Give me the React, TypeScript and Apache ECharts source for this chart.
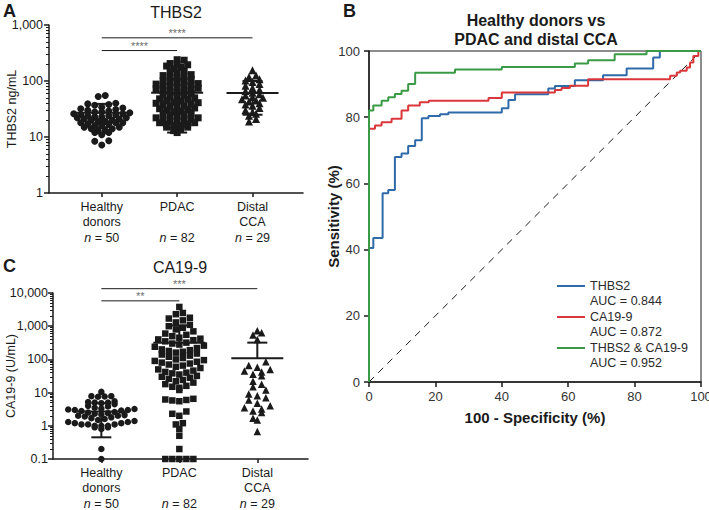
import React, { useEffect, useRef } from 'react';
import * as echarts from 'echarts';

const FONT = '"Liberation Sans", Arial, Helvetica, sans-serif';
const INK = '#1a1a1a';

// ---------- shared group info ----------
const groupNames = ['Healthy\ndonors', 'PDAC\n ', 'Distal\nCCA'];
const groupN = [50, 82, 29];
const groupX = [1, 2, 3];

// ---------- Panel A: THBS2 (ng/mL) ----------
const thbs2Healthy = [55, 53, 40, 39, 38, 37, 34, 33, 32, 31, 30, 29, 28, 28, 27, 26, 26, 25, 25, 24, 24, 23, 23, 22, 22, 21, 21, 20, 20, 19, 19, 18, 18, 18, 17, 17, 16, 16, 15, 15, 14, 14, 13, 13, 12, 12, 11, 8.6, 8.4, 7.2];
const thbs2Pdac = [240, 235, 205, 200, 195, 185, 175, 165, 155, 145, 140, 130, 125, 120, 115, 110, 105, 100, 98, 95, 92, 90, 88, 85, 82, 80, 78, 76, 74, 72, 70, 68, 66, 64, 62, 60, 58, 56, 54, 52, 50, 48, 47, 45, 44, 42, 41, 40, 39, 38, 36, 35, 34, 33, 32, 31, 30, 29, 28, 27, 26, 25, 24, 23, 22, 22, 21, 20, 20, 19, 19, 18, 18, 17, 17, 16, 16, 15, 15, 14, 13, 12];
const thbs2Distal = [155, 125, 118, 108, 102, 96, 88, 82, 75, 70, 66, 62, 58, 55, 52, 50, 47, 45, 43, 40, 38, 36, 33, 30, 28, 26, 24, 21, 19];
const thbs2Mean = [27, 62, 61];
const thbs2SdLow = [15, 12, 25];
const thbs2SdHigh = [39, 110, 100];
const thbs2Ticks = [1, 10, 100, 1000];
const thbs2SigPairs = [[1, 2], [1, 3]];
const thbs2SigLevel = [350, 590];
const thbs2SigStars = ['****', '****'];

// ---------- Panel C: CA19-9 (U/mL) ----------
const ca199Healthy = [10.5, 7.8, 7.6, 7.5, 7.8, 5.5, 5.2, 5, 5, 4.8, 4.5, 4, 3.8, 3.5, 3.3, 3.2, 3.1, 3, 3, 2.9, 2.8, 2.6, 2.5, 2.4, 2.3, 2.2, 2.1, 2, 2, 1.9, 1.8, 1.7, 1.6, 1.5, 1.4, 1.3, 1.3, 1.2, 1.2, 1.1, 1.1, 1.1, 1, 1, 1, 0.9, 0.9, 0.8, 0.2, 0.1];
const ca199Pdac = [3800, 2500, 2300, 1800, 1700, 1500, 1300, 1100, 1000, 900, 800, 700, 600, 550, 500, 450, 420, 400, 380, 350, 320, 300, 280, 260, 240, 220, 200, 190, 180, 170, 160, 150, 140, 130, 120, 110, 100, 95, 90, 85, 80, 75, 70, 65, 60, 55, 50, 46, 42, 40, 38, 35, 32, 30, 28, 26, 24, 22, 20, 18, 16, 15, 14, 12, 6.5, 6.2, 6, 5.8, 5.5, 2.7, 2.3, 2.0, 1.2, 1.1, 0.8, 0.5, 0.2, 0.1, 0.1, 0.1, 0.1, 0.1];
const ca199Distal = [730, 630, 540, 400, 85, 65, 58, 50, 45, 42, 36, 32, 22, 18, 15, 12, 9, 8, 7, 6, 4.8, 4, 3.5, 3.2, 2.8, 2.5, 1.7, 1.5, 0.67];
const ca199Mean = [2.7, 320, 108];
const ca199SdLow = [0.45, 0, 0]; // 0 = lower bar not drawn (negative on log scale)
const ca199SdHigh = [4.8, 1050, 320];
const ca199Ticks = [0.1, 1, 10, 100, 1000, 10000];
const ca199SigPairs = [[1, 2], [1, 3]];
const ca199SigLevel = [5800, 13500];
const ca199SigStars = ['**', '***'];

// ---------- Panel B: ROC curves ----------
const rocNames = ['THBS2', 'CA19-9', 'THBS2 & CA19-9'];
const rocAuc = ['0.844', '0.872', '0.952'];
const rocColors = ['#2f6aa9', '#d9373b', '#3b9a46'];
const rocThbs2 = [[0, 0], [0, 40.5], [1.3, 43.5], [4.1, 57], [5.8, 58], [7.8, 68], [9.8, 69], [11.8, 71.3], [13.9, 73], [15.9, 79.7], [17.9, 80.4], [21.4, 80.9], [23.9, 81.4], [40, 82.7], [42, 85.2], [44, 86.9], [54, 88.7], [56, 89.4], [62, 91.2], [70.5, 92.7], [77.6, 94.7], [85.6, 98], [87.6, 100], [100, 100]];
const rocCa199 = [[0, 0], [0, 76.5], [1.8, 77.5], [3.8, 78.5], [6.8, 79.5], [9.8, 82], [11.8, 83.5], [15.3, 84.5], [18, 85], [36, 85.8], [40, 87.5], [56, 88.2], [58, 88.8], [60.5, 89.5], [66, 91.5], [90.7, 92.5], [92.7, 93.5], [93.7, 94], [95.7, 95], [96.7, 96.5], [97.7, 98.5], [99.2, 100], [100, 100]];
const rocCombined = [[0, 0], [0, 82], [1.3, 83.5], [3.8, 85], [5.8, 86], [7.8, 87], [9.8, 88], [11.8, 90], [13.9, 93.4], [25.9, 94.4], [40, 95.2], [62, 96.2], [66, 97.2], [74, 99], [83.6, 100], [100, 100]];
const rocChance = [[0, 0], [100, 100]];

// ---------- helpers ----------
function swarm(values: number[], cx: number, binDec: number, step: number): number[][] {
  const bins = new Map<number, number[]>();
  values.forEach((v) => {
    const b = Math.floor(Math.log10(v) / binDec + 1e-9);
    if (!bins.has(b)) bins.set(b, []);
    bins.get(b)!.push(v);
  });
  const out: number[][] = [];
  bins.forEach((arr) => {
    arr.sort((a, b) => a - b);
    const k = arr.length;
    const offs = Array.from({ length: k }, (_, i) => (i - (k - 1) / 2) * step).sort(
      (a, b) => Math.abs(a) - Math.abs(b) || a - b
    );
    arr.forEach((v, i) => out.push([cx + offs[i], v]));
  });
  return out;
}

function minorTicks(lo: number, hi: number): number[] {
  const out: number[] = [];
  for (let d = lo; d < hi * 0.999; d *= 10) {
    for (let k = 2; k <= 9; k++) out.push(Number((d * k).toPrecision(6)));
  }
  return out;
}

const fmtLog = (v: number) => {
  const n = Number(Number(v).toPrecision(6));
  return n >= 1000 ? n.toLocaleString('en-US') : String(n);
};

const catFormatter = (v: number) => {
  const i = Math.round(v) - 1;
  return `${groupNames[i]}\n{i|n} = ${groupN[i]}`;
};

const axisLine = { show: true, onZero: false, lineStyle: { color: INK, width: 1.5 } };

function catXAxis(gridIndex: number, min: number, max: number, margin: number) {
  return {
    type: 'value',
    gridIndex,
    min,
    max,
    axisLine,
    axisTick: { show: true, customValues: groupX, length: 4, lineStyle: { color: INK, width: 1.5 } },
    axisLabel: {
      customValues: groupX,
      formatter: catFormatter,
      margin,
      color: INK,
      fontSize: 12.5,
      lineHeight: 15.5,
      fontFamily: FONT,
      rich: { i: { fontStyle: 'italic', fontSize: 12.5, lineHeight: 15.5, fontFamily: FONT, color: INK } },
    },
    splitLine: { show: false },
  };
}

function logYAxes(gridIndex: number, min: number, max: number, ticks: number[], name: string, nameGap: number, margin: number) {
  return [
    {
      type: 'log',
      logBase: 10,
      gridIndex,
      min,
      max,
      position: 'left',
      axisLine,
      axisTick: { show: true, customValues: ticks, length: 5, lineStyle: { color: INK, width: 1.5 } },
      axisLabel: { customValues: ticks, formatter: fmtLog, fontSize: 12.5, color: INK, margin, fontFamily: FONT },
      splitLine: { show: false },
      name,
      nameLocation: 'middle',
      nameGap,
      nameMoveOverlap: false,
      nameTextStyle: { fontSize: 12.5, color: INK, fontFamily: FONT },
    },
    {
      type: 'log',
      logBase: 10,
      gridIndex,
      min,
      max,
      position: 'left',
      axisLine: { show: false },
      axisTick: { show: true, customValues: minorTicks(min, max), length: 3, lineStyle: { color: INK, width: 1 } },
      axisLabel: { show: false },
      splitLine: { show: false },
    },
  ];
}

function scatterSeries(values: number[], idx: number, symbol: string, size: number, xi: number, yi: number, binDec: number, step: number) {
  return {
    type: 'scatter',
    xAxisIndex: xi,
    yAxisIndex: yi,
    symbol,
    symbolSize: size,
    itemStyle: { color: INK, opacity: 1 },
    data: swarm(values, groupX[idx], binDec, step),
    silent: true,
    z: 2,
  };
}

function errSeries(mean: number[], lo: number[], hi: number[], xi: number, yi: number) {
  return {
    type: 'custom',
    xAxisIndex: xi,
    yAxisIndex: yi,
    silent: true,
    z: 5,
    encode: { x: 0, y: 1 },
    data: groupX.map((x, i) => [x, mean[i], lo[i], hi[i]]),
    renderItem: (_params: any, api: any) => {
      const x = api.value(0);
      const m = api.value(1);
      const l = api.value(2);
      const h = api.value(3);
      const pm = api.coord([x, m]);
      const st = { stroke: INK, lineWidth: 2 };
      const children: any[] = [
        { type: 'line', shape: { x1: pm[0] - 26, y1: pm[1], x2: pm[0] + 26, y2: pm[1] }, style: st },
      ];
      [h, l].forEach((v) => {
        if (v > 0) {
          const p = api.coord([x, v]);
          children.push({ type: 'line', shape: { x1: pm[0], y1: pm[1], x2: p[0], y2: p[1] }, style: st });
          children.push({ type: 'line', shape: { x1: p[0] - 10, y1: p[1], x2: p[0] + 10, y2: p[1] }, style: st });
        }
      });
      return { type: 'group', children };
    },
  };
}

function sigSeries(pairs: number[][], levels: number[], stars: string[], xi: number, yi: number) {
  const out: any[] = [];
  pairs.forEach((p, i) => {
    out.push({
      type: 'line',
      xAxisIndex: xi,
      yAxisIndex: yi,
      data: [[p[0], levels[i]], [p[1], levels[i]]],
      symbol: 'none',
      lineStyle: { color: INK, width: 1 },
      clip: false,
      silent: true,
      z: 3,
    });
    out.push({
      type: 'scatter',
      xAxisIndex: xi,
      yAxisIndex: yi,
      data: [{ value: [(p[0] + p[1]) / 2, levels[i]], label: { formatter: stars[i] } }],
      symbolSize: 1,
      itemStyle: { color: 'rgba(0,0,0,0)' },
      label: { show: true, position: 'top', distance: -1, fontSize: 11, color: '#444', fontFamily: FONT },
      clip: false,
      silent: true,
      z: 3,
    });
  });
  return out;
}

function buildOption(): any {
  const titleBase = { padding: 0, textStyle: { fontFamily: FONT, color: INK } };
  const rocSeries = [rocThbs2, rocCa199, rocCombined].map((d, i) => ({
    type: 'line',
    name: rocNames[i],
    xAxisIndex: 2,
    yAxisIndex: 4,
    data: d,
    step: 'end',
    symbol: 'none',
    color: rocColors[i],
    itemStyle: { color: rocColors[i] },
    lineStyle: { color: rocColors[i], width: 2 },
    silent: true,
    z: 4 + i,
  }));

  return {
    animation: false,
    backgroundColor: '#ffffff',
    textStyle: { fontFamily: FONT },
    title: [
      { ...titleBase, text: 'A', left: 3, top: 2, textStyle: { ...titleBase.textStyle, fontSize: 18, fontWeight: 'bold' } },
      { ...titleBase, text: 'THBS2', left: 176, top: 4, textAlign: 'center', textStyle: { ...titleBase.textStyle, fontSize: 16, fontWeight: 'normal' } },
      { ...titleBase, text: 'C', left: 3, top: 257, textStyle: { ...titleBase.textStyle, fontSize: 18, fontWeight: 'bold' } },
      { ...titleBase, text: 'CA19-9', left: 180, top: 259, textAlign: 'center', textStyle: { ...titleBase.textStyle, fontSize: 16, fontWeight: 'normal' } },
      { ...titleBase, text: 'B', left: 343, top: 2, textStyle: { ...titleBase.textStyle, fontSize: 18, fontWeight: 'bold' } },
      {
        ...titleBase,
        text: 'Healthy donors vs\nPDAC and distal CCA',
        left: 536,
        top: 11,
        textAlign: 'center',
        textStyle: { ...titleBase.textStyle, fontSize: 16, fontWeight: 'bold', lineHeight: 19 },
      },
    ],
    grid: [
      { left: 49, top: 25, width: 254, height: 168, containLabel: false, outerBoundsMode: 'none' },
      { left: 53, top: 293, width: 255, height: 166, containLabel: false, outerBoundsMode: 'none' },
      {
        left: 369, top: 51, width: 332, height: 331, containLabel: false, outerBoundsMode: 'none',
        show: true, borderColor: INK, borderWidth: 1, backgroundColor: 'transparent',
      },
    ],
    legend: {
      data: rocNames,
      orient: 'vertical',
      left: 557,
      top: 278,
      padding: 0,
      itemGap: 0,
      itemWidth: 28,
      itemHeight: 31,
      icon: 'path://M0,7H28V9H0Z M0,0H0.05V0.05H0Z M0,31H0.05V31.05H0Z',
      symbolKeepAspect: false,
      selectedMode: false,
      formatter: (name: string) => `${name}\nAUC = ${rocAuc[rocNames.indexOf(name)]}`,
      textStyle: { fontSize: 12.5, lineHeight: 15.5, color: '#2a2a2a', fontFamily: FONT },
    },
    xAxis: [
      catXAxis(0, 0.3, 3.67, 6),
      catXAxis(1, 0.38, 3.65, 6),
      {
        type: 'value',
        gridIndex: 2,
        min: 0,
        max: 100,
        interval: 20,
        axisLine,
        axisTick: { show: true, length: 5, lineStyle: { color: INK, width: 1.5 } },
        axisLabel: { fontSize: 13, color: '#333', margin: 8, fontFamily: FONT },
        splitLine: { show: false },
        name: '100 - Specificity (%)',
        nameLocation: 'middle',
        nameGap: 28,
        nameMoveOverlap: false,
        nameTextStyle: { fontSize: 15, fontWeight: 'bold', color: INK, fontFamily: FONT },
      },
    ],
    yAxis: [
      ...logYAxes(0, 1, 1000, thbs2Ticks, 'THBS2 ng/mL', 31, 6),
      ...logYAxes(1, 0.1, 10000, ca199Ticks, 'CA19-9 (U/mL)', 36, 5),
      {
        type: 'value',
        gridIndex: 2,
        min: 0,
        max: 100,
        interval: 20,
        axisLine,
        axisTick: { show: true, length: 5, lineStyle: { color: INK, width: 1.5 } },
        axisLabel: { fontSize: 13, color: '#333', margin: 9, fontFamily: FONT },
        splitLine: { show: false },
        name: 'Sensitivity (%)',
        nameLocation: 'middle',
        nameGap: 28,
        nameMoveOverlap: false,
        nameTextStyle: { fontSize: 15, fontWeight: 'bold', color: INK, fontFamily: FONT },
      },
    ],
    series: [
      // Panel A
      scatterSeries(thbs2Healthy, 0, 'circle', 7, 0, 0, 0.085, 0.093),
      scatterSeries(thbs2Pdac, 1, 'rect', 7, 0, 0, 0.085, 0.093),
      scatterSeries(thbs2Distal, 2, 'triangle', 8, 0, 0, 0.085, 0.093),
      errSeries(thbs2Mean, thbs2SdLow, thbs2SdHigh, 0, 0),
      ...sigSeries(thbs2SigPairs, thbs2SigLevel, thbs2SigStars, 0, 0),
      // Panel C
      scatterSeries(ca199Healthy, 0, 'circle', 6.5, 1, 2, 0.17, 0.085),
      scatterSeries(ca199Pdac, 1, 'rect', 6.5, 1, 2, 0.22, 0.09),
      scatterSeries(ca199Distal, 2, 'triangle', 7.5, 1, 2, 0.22, 0.11),
      errSeries(ca199Mean, ca199SdLow, ca199SdHigh, 1, 2),
      ...sigSeries(ca199SigPairs, ca199SigLevel, ca199SigStars, 1, 2),
      // Panel B
      {
        type: 'line',
        xAxisIndex: 2,
        yAxisIndex: 4,
        data: rocChance,
        symbol: 'none',
        lineStyle: { color: INK, width: 1, type: [7, 6] },
        silent: true,
        z: 3,
      },
      ...rocSeries,
    ],
  };
}

export default function App() {
  const ref = useRef<HTMLDivElement>(null);
  useEffect(() => {
    const chart = echarts.init(ref.current!, null, { renderer: 'svg' });
    chart.setOption(buildOption());
    return () => chart.dispose();
  }, []);
  return (
    <div
      ref={ref}
      style={{ position: 'absolute', left: 0, top: 0, width: 709, height: 510, background: '#fff' }}
    />
  );
}
